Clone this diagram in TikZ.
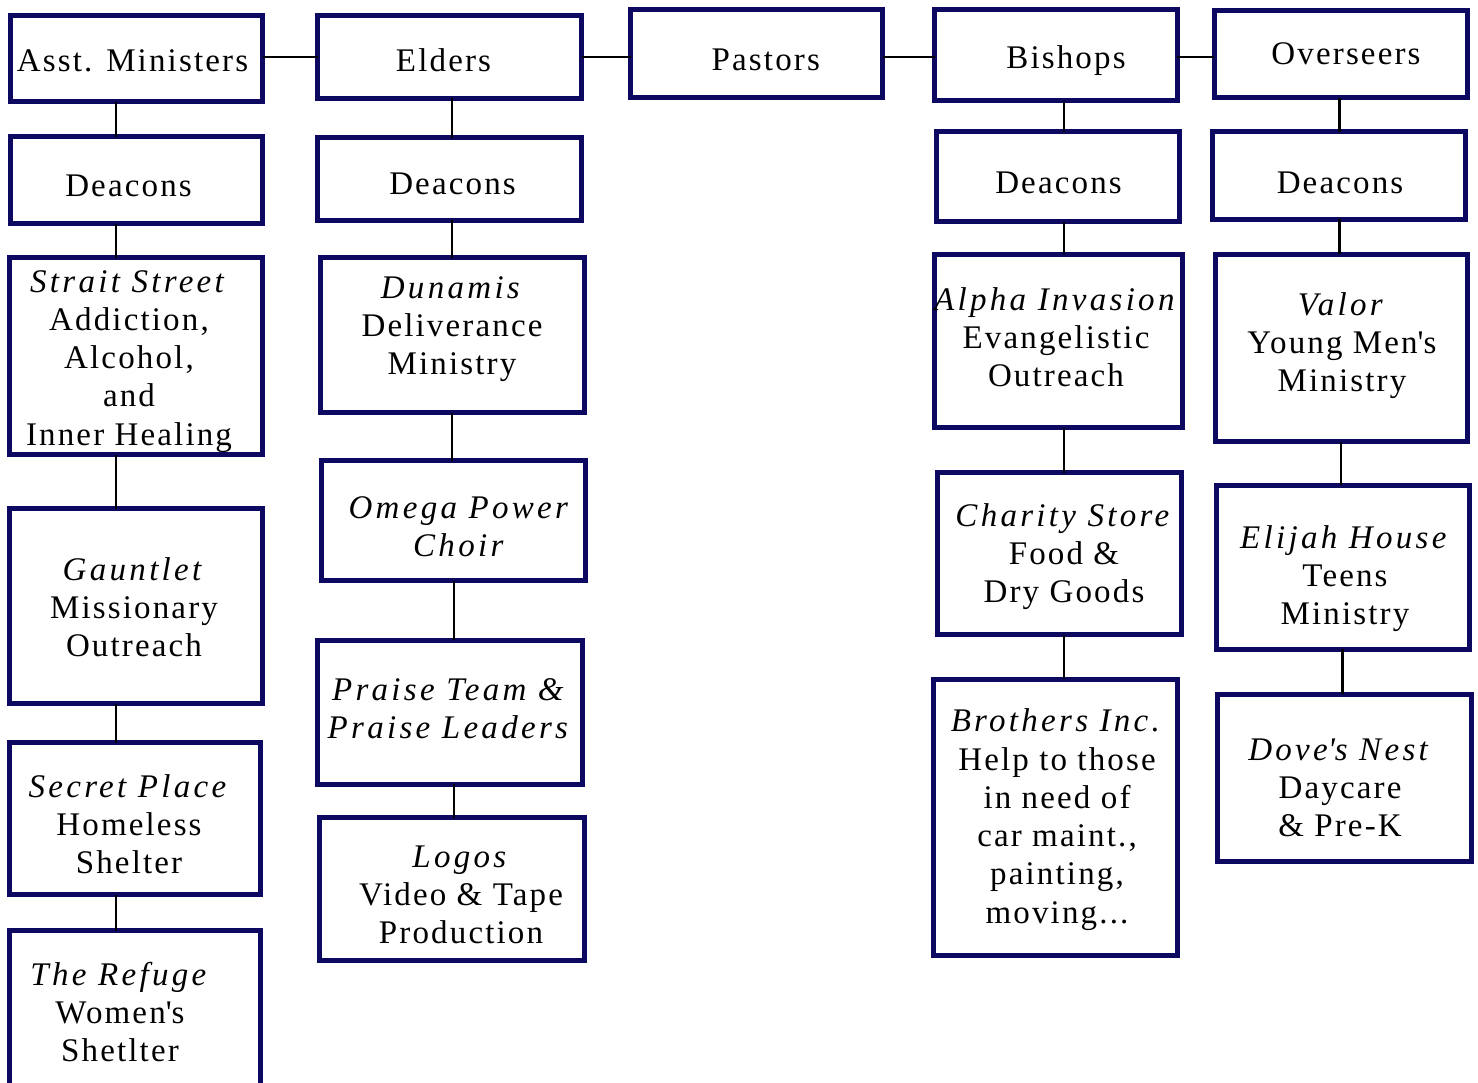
\documentclass[tikz,border=0pt]{standalone}
\usepackage{fontspec}
\setmainfont{Liberation Serif}[LetterSpace=6.5,ItalicFeatures={LetterSpace=10}]
\definecolor{navyb}{RGB}{13,8,96}
\newcommand\lns[1]{\begin{tabular}[t]{@{}c@{}}#1\end{tabular}}
\newcommand\obox[8]{%
  \pgfmathsetmacro\bw{#4-#2-5}\pgfmathsetmacro\bh{#5-#3-5}%
  \node[orgbox,minimum width=\bw pt,minimum height=\bh pt] (#1) at ({(#2+#4)/2},{(#3+#5)/2}) {};
  \node[orgtext] (#1-t) at (#6,#7) {\lns{#8}};}
\tikzset{
  orgbox/.style={draw=navyb,line width=5pt,fill=white,inner sep=0pt,outer sep=0pt},
  orgtext/.style={inner sep=0pt,anchor=base,font=\fontsize{33}{38.3}\selectfont},
  conn/.style={line width=2.3pt,draw=black}
}
\begin{document}
\begin{tikzpicture}[x=1pt,y=-1pt]
\useasboundingbox (0,0) rectangle (1478,1082);
\clip (0,0) rectangle (1478,1082);
% top row
\obox{asst}{8}{12.7}{265}{104.3}{132.5}{71.7}{Asst. Ministers}
\obox{elders}{315}{12.7}{584}{100.7}{443.5}{71.7}{Elders}
\obox{pastors}{628}{7.3}{885}{100}{765.8}{70}{Pastors}
\obox{bishops}{932.1}{7.3}{1179.8}{103.3}{1066}{68.3}{Bishops}
\obox{overseers}{1211.8}{8.3}{1469.8}{100}{1346}{64.3}{Overseers}
% deacons
\obox{dea1}{8}{134}{265}{226}{128.5}{196}{Deacons}
\obox{dea2}{315}{135}{584}{222.7}{452.5}{194}{Deacons}
\obox{dea4}{934.2}{129.3}{1182.3}{224}{1058.5}{193.3}{Deacons}
\obox{dea5}{1210}{129.3}{1468}{221.7}{1340}{193.3}{Deacons}
% column 1
\obox{strait}{7}{255}{265}{457}{129}{292}{\textit{Strait Street}\\Addiction,\\Alcohol,\\and\\Inner Healing}
\obox{gauntlet}{7}{506}{265}{706}{134}{580}{\textit{Gauntlet}\\Missionary\\Outreach}
\obox{secret}{7.3}{740}{263}{897}{129}{797}{\textit{Secret Place}\\Homeless\\Shelter}
\obox{refuge}{7.3}{928}{263}{1110}{120}{985}{\textit{The Refuge}\\Women\textquotesingle s\\Shetlter}
% column 2
\obox{dunamis}{318.3}{255}{587.3}{415}{452}{298}{\textit{Dunamis}\\Deliverance\\Ministry}
\obox{omega}{319}{458}{588}{583}{460}{518}{\textit{Omega Power}\\\textit{Choir}}
\obox{praise}{315}{637.7}{585}{786.7}{449.5}{700}{\textit{Praise Team \&}\\\textit{Praise Leaders}}
\obox{logos}{317}{815}{587}{963}{461}{867}{\textit{Logos}\\Video \& Tape\\Production}
% column 4
\obox{alpha}{931.7}{251.7}{1185}{430}{1056}{310}{\textit{Alpha Invasion}\\Evangelistic\\Outreach}
\obox{charity}{935}{470}{1184}{637}{1064}{526}{\textit{Charity Store}\\Food \&\\Dry Goods}
\obox{brothers}{931.4}{676.7}{1179.8}{957.7}{1057}{731.7}{\textit{Brothers Inc.}\\Help to those\\in need of\\car maint.,\\painting,\\moving...}
% column 5
\obox{valor}{1213}{251.7}{1470}{444}{1342}{315}{\textit{Valor}\\Young Men\textquotesingle s\\Ministry}
\obox{elijah}{1214}{482.7}{1471.7}{651.7}{1345}{548}{\textit{Elijah House}\\Teens\\Ministry}
\obox{dove}{1215.4}{691.7}{1474}{864}{1340}{760}{\textit{Dove\textquotesingle s Nest}\\Daycare\\\& Pre-K}
% connector guides
\coordinate (hy) at (0,56.7);
\coordinate (c1) at (116.3,0);
\coordinate (c2a) at (452,0);
\coordinate (c2b) at (454,0);
\coordinate (c4) at (1064,0);
\coordinate (c5a) at (1339.5,0);
\coordinate (c5b) at (1341,0);
\coordinate (c5c) at (1342.4,0);
% horizontal
\draw[conn] (asst.east |- hy) -- (elders.west |- hy);
\draw[conn] (elders.east |- hy) -- (pastors.west |- hy);
\draw[conn] (pastors.east |- hy) -- (bishops.west |- hy);
\draw[conn] (bishops.east |- hy) -- (overseers.west |- hy);
% column 1
\draw[conn] (asst.south -| c1) -- (dea1.north -| c1);
\draw[conn] (dea1.south -| c1) -- (strait.north -| c1);
\draw[conn] (strait.south -| c1) -- (gauntlet.north -| c1);
\draw[conn] (gauntlet.south -| c1) -- (secret.north -| c1);
\draw[conn] (secret.south -| c1) -- (refuge.north -| c1);
% column 2
\draw[conn] (elders.south -| c2a) -- (dea2.north -| c2a);
\draw[conn] (dea2.south -| c2a) -- (dunamis.north -| c2a);
\draw[conn] (dunamis.south -| c2a) -- (omega.north -| c2a);
\draw[conn] (omega.south -| c2b) -- (praise.north -| c2b);
\draw[conn] (praise.south -| c2b) -- (logos.north -| c2b);
% column 4
\draw[conn] (bishops.south -| c4) -- (dea4.north -| c4);
\draw[conn] (dea4.south -| c4) -- (alpha.north -| c4);
\draw[conn] (alpha.south -| c4) -- (charity.north -| c4);
\draw[conn] (charity.south -| c4) -- (brothers.north -| c4);
% column 5
\draw[conn] (overseers.south -| c5a) -- (dea5.north -| c5a);
\draw[conn] (dea5.south -| c5a) -- (valor.north -| c5a);
\draw[conn] (valor.south -| c5b) -- (elijah.north -| c5b);
\draw[conn] (elijah.south -| c5c) -- (dove.north -| c5c);
\end{tikzpicture}
\end{document}
